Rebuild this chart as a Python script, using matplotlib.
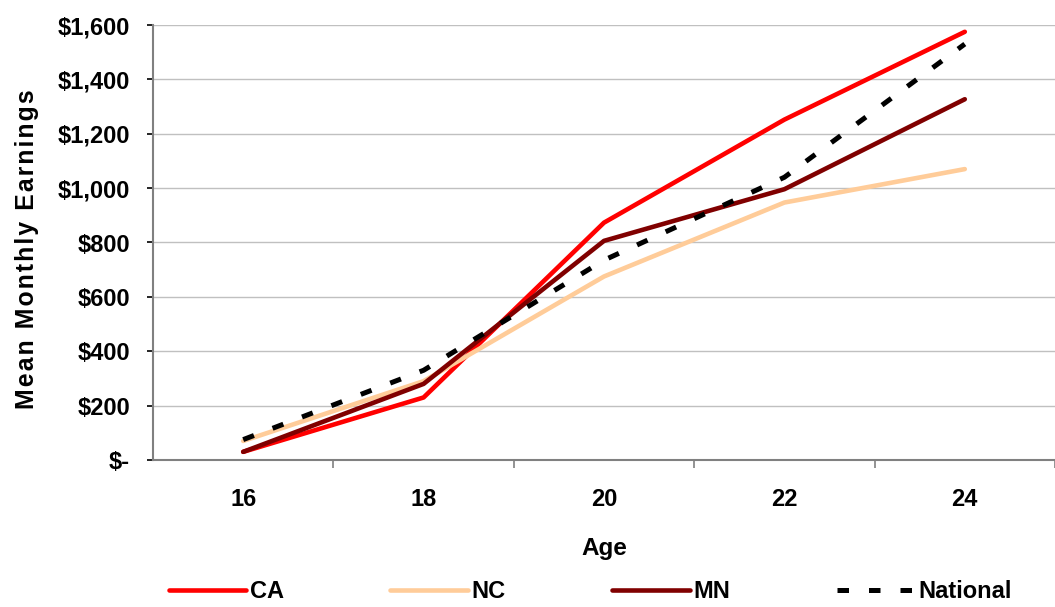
import matplotlib
matplotlib.use('Agg')
import matplotlib.pyplot as plt
from matplotlib.ticker import FuncFormatter, FixedLocator

# Data
ages = ['16', '18', '20', '22', '24']
ca = [30, 230, 873, 1252, 1575]
nc = [70, 290, 675, 947, 1070]
mn = [30, 280, 806, 996, 1327]
national = [75, 330, 735, 1040, 1530]

FONT = ['Liberation Sans', 'DejaVu Sans']
plt.rcParams['font.family'] = FONT
plt.rcParams['font.weight'] = 'bold'

fig = plt.figure(figsize=(10.55, 6.07), dpi=100)
ax = fig.add_axes([153 / 1055, 147 / 607, 902 / 1055, 435 / 607])

x = list(range(len(ages)))
LW = 3.3
ax.plot(x, ca, color='#FF0000', lw=LW, solid_capstyle='round', label='CA', zorder=3)
ax.plot(x, nc, color='#FFCC99', lw=LW, solid_capstyle='round', label='NC', zorder=3)
ax.plot(x, mn, color='#800000', lw=LW, solid_capstyle='round', label='MN', zorder=3)
ax.plot(x, national, color='black', lw=3.6, dashes=(2.3, 4.0),
        dash_capstyle='butt', label='National', zorder=4)

# y axis
ax.set_ylim(0, 1600)
ax.set_yticks(range(0, 1601, 200))
ax.yaxis.set_major_formatter(FuncFormatter(lambda v, p: '$-' if v == 0 else '${:,.0f}'.format(v)))
ax.grid(axis='y', color='#C0C0C0', lw=1.0, zorder=0)
ax.set_axisbelow(True)

# x axis: category labels centred, tick marks between categories
ax.set_xlim(-0.5, len(ages) - 0.5)
ax.set_xticks(x)
ax.set_xticklabels(ages)
ax.xaxis.set_minor_locator(FixedLocator([i + 0.5 for i in x]))
ax.tick_params(axis='x', which='major', length=0, pad=20, labelsize=17)
ax.tick_params(axis='x', which='minor', length=6, width=1.2, color='#808080', direction='out')
ax.tick_params(axis='y', which='major', length=4.5, width=1.2, color='#000000',
               direction='out', pad=12, labelsize=17)

for s in ['top', 'right']:
    ax.spines[s].set_visible(False)
for s in ['left', 'bottom']:
    ax.spines[s].set_color('#808080')
    ax.spines[s].set_linewidth(1.5)

for lab in ax.get_xticklabels() + ax.get_yticklabels():
    lab.set_fontweight('bold')

# axis titles
ylabel = '\u200a'.join('Mean Monthly Earnings')
fig.text(27 / 1055, 1 - 249 / 607, ylabel, rotation=90, ha='center', va='center',
         fontsize=17.8, fontweight='bold', family=FONT)
fig.text(604 / 1055, 1 - 549 / 607, 'Age', ha='center', va='center',
         fontsize=17.5, fontweight='bold')

leg = fig.legend(loc='center', bbox_to_anchor=(590 / 1055, 1 - 592 / 607), ncol=4,
                 frameon=False, fontsize=17, handlelength=3.3, handletextpad=0.15,
                 columnspacing=4.5, borderpad=0)
for t in leg.get_texts():
    t.set_fontweight('bold')

fig.savefig('out.png', dpi=100)
